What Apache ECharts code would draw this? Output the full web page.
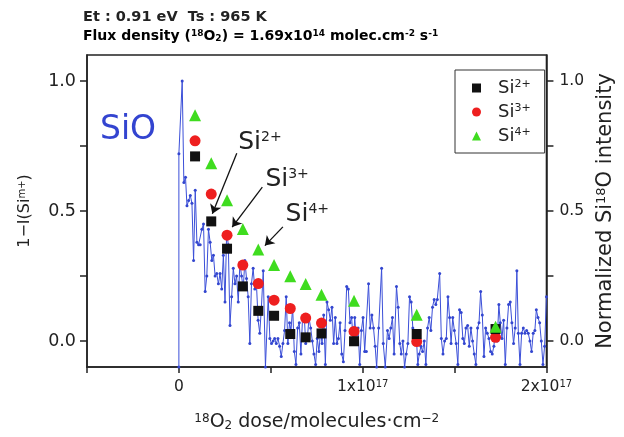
<!DOCTYPE html>
<html>
<head>
<meta charset="utf-8">
<script src="https://cdn.jsdelivr.net/npm/echarts@6/dist/echarts.min.js"></script>
<style>
  html, body { margin: 0; padding: 0; background: #fff; }
  #chart { width: 624px; height: 437px; }
</style>
</head>
<body>
<div id="chart"></div>
<script>
// Dose values are in units of 1e17 molecules/cm^2.

// SiO (Si18O) signal, normalized, as [dose, intensity]
const sioTrace = [
  [0.000, -0.10], [0.000, 0.72], [0.018, 1.00], [0.027, 0.61], [0.036, 0.63], [0.044, 0.52],
  [0.053, 0.54], [0.062, 0.56], [0.071, 0.53], [0.080, 0.31], [0.089, 0.58], [0.098, 0.38],
  [0.107, 0.37], [0.116, 0.37], [0.125, 0.43], [0.134, 0.45], [0.143, 0.19], [0.152, 0.25],
  [0.161, 0.43], [0.170, 0.38], [0.179, 0.31], [0.188, 0.33], [0.197, 0.25], [0.206, 0.26],
  [0.215, 0.22], [0.224, 0.26], [0.233, 0.20], [0.242, 0.33], [0.251, 0.15], [0.260, 0.42],
  [0.269, 0.37], [0.278, 0.06], [0.287, 0.17], [0.296, 0.28], [0.305, 0.22], [0.314, 0.25],
  [0.323, 0.15], [0.332, 0.30], [0.341, 0.25], [0.350, 0.20], [0.359, 0.31], [0.368, 0.24],
  [0.377, 0.17], [0.386, -0.01], [0.395, 0.22], [0.404, 0.28], [0.413, 0.20], [0.422, 0.22],
  [0.431, 0.08], [0.440, 0.03], [0.449, 0.13],
  [0.459, 0.27], [0.471, -0.10], [0.486, 0.17], [0.495, 0.01], [0.504, -0.01], [0.513, 0.00],
  [0.521, 0.01], [0.530, -0.01], [0.539, 0.01], [0.548, -0.02], [0.557, -0.06], [0.566, -0.01],
  [0.575, 0.04], [0.584, 0.17], [0.593, -0.01], [0.602, 0.07], [0.610, 0.04], [0.619, 0.13],
  [0.628, -0.04], [0.637, -0.09], [0.646, 0.05], [0.655, 0.07], [0.664, -0.05], [0.673, 0.09],
  [0.682, 0.10], [0.690, -0.01], [0.699, 0.01], [0.708, 0.09], [0.717, 0.05], [0.726, 0.00],
  [0.735, -0.05], [0.744, -0.09], [0.753, 0.01], [0.762, -0.04], [0.771, 0.04], [0.779, -0.01],
  [0.788, 0.10], [0.797, -0.09], [0.806, 0.15], [0.815, 0.12], [0.824, 0.08], [0.833, 0.13],
  [0.842, -0.01], [0.851, 0.09], [0.860, -0.01], [0.868, 0.01], [0.877, 0.07], [0.886, -0.05],
  [0.895, -0.08], [0.904, 0.04], [0.913, 0.21], [0.922, 0.20], [0.931, 0.07], [0.940, 0.09],
  [0.949, -0.01], [0.957, 0.09], [0.966, -0.01], [0.975, 0.05], [0.984, -0.09], [0.993, 0.04],
  [1.002, 0.09], [1.011, -0.04], [1.020, -0.04], [1.032, 0.22], [1.041, 0.05], [1.050, 0.10],
  [1.059, 0.05], [1.068, -0.02], [1.076, -0.10], [1.087, 0.05], [1.103, 0.28], [1.112, -0.01],
  [1.123, -0.10], [1.135, 0.04], [1.144, 0.01], [1.153, 0.05], [1.162, 0.09], [1.171, -0.05],
  [1.184, 0.21], [1.193, 0.13], [1.202, -0.01], [1.210, -0.05], [1.219, 0.00], [1.228, -0.10],
  [1.237, -0.05], [1.246, -0.01], [1.255, 0.17], [1.264, 0.15], [1.273, 0.05], [1.282, 0.01],
  [1.291, 0.03], [1.300, -0.09], [1.308, -0.05], [1.317, -0.02], [1.326, -0.04], [1.335, 0.00],
  [1.344, -0.09], [1.353, 0.05], [1.362, 0.09], [1.371, 0.04], [1.380, 0.13], [1.389, 0.16],
  [1.398, 0.14], [1.406, 0.16], [1.419, 0.26], [1.428, 0.01], [1.437, -0.05], [1.446, 0.00],
  [1.455, 0.01], [1.464, 0.17], [1.473, 0.09], [1.481, -0.01], [1.490, 0.09], [1.499, 0.04],
  [1.509, -0.01], [1.518, -0.09], [1.527, 0.12], [1.536, 0.11], [1.545, 0.01], [1.553, -0.01],
  [1.562, 0.05], [1.571, 0.06], [1.580, -0.02], [1.589, 0.05], [1.598, 0.00], [1.607, -0.05],
  [1.616, -0.09], [1.625, 0.05], [1.633, 0.07], [1.642, 0.19], [1.651, 0.10], [1.660, -0.06],
  [1.669, 0.05], [1.678, 0.03], [1.687, 0.01], [1.696, -0.04], [1.705, -0.05], [1.714, -0.02],
  [1.723, 0.05], [1.732, 0.00], [1.741, 0.14], [1.749, 0.07], [1.758, 0.01], [1.767, 0.08],
  [1.776, -0.09], [1.785, 0.05], [1.794, 0.14], [1.803, 0.15], [1.812, 0.07], [1.821, -0.01],
  [1.830, 0.05], [1.839, 0.27], [1.847, 0.03], [1.856, -0.09], [1.865, 0.03], [1.874, 0.05],
  [1.883, 0.03], [1.892, 0.04], [1.901, 0.03], [1.910, 0.00], [1.919, -0.04], [1.928, 0.03],
  [1.937, 0.04], [1.945, 0.12], [1.954, 0.09], [1.963, 0.07], [1.972, 0.00], [1.981, -0.09],
  [1.990, -0.02], [2.000, 0.17]
];

// 1 - I(Si^m+) for the three suboxide states
const markerDose = [0.088, 0.176, 0.262, 0.348, 0.432, 0.518, 0.606, 0.690, 0.776, 0.953, 1.294, 1.723];
const si2 = [0.71, 0.46, 0.355, 0.21, 0.116, 0.097, 0.027, 0.014, 0.029, -0.001, 0.027, 0.046];
const si3 = [0.77, 0.565, 0.407, 0.292, 0.221, 0.157, 0.125, 0.088, 0.069, 0.037, -0.002, 0.014];
const si4 = [0.868, 0.684, 0.541, 0.431, 0.352, 0.292, 0.249, 0.219, 0.178, 0.155, 0.101, 0.055];

const yTicks = [0, 0.25, 0.5, 0.75, 1];
const yLabels = [0, 0.5, 1];
const xLabels = [0, 1, 2];

const FONT = '"DejaVu Sans", "Liberation Sans", sans-serif';
const INK = '#222';

const pairs = (xs, ys) => xs.map((x, i) => [x, ys[i]]);

const supRich = (size, supSize, weight) => ({
  b: { fontSize: size, fontFamily: FONT, color: INK, fontWeight: weight || 'normal' },
  sup: { fontSize: supSize, fontFamily: FONT, color: INK, fontWeight: weight || 'normal',
         verticalAlign: 'top', lineHeight: Math.round(supSize * 0.8) },
  sub: { fontSize: supSize, fontFamily: FONT, color: INK, fontWeight: weight || 'normal',
         verticalAlign: 'bottom', lineHeight: Math.round(supSize * 0.8) }
});

const chart = echarts.init(document.getElementById('chart'), null, { renderer: 'canvas' });

// pointer arrow from a state label to its marker
const arrowLine = (from, to) => ({
  silent: true,
  symbol: ['none', 'arrow'],
  symbolSize: 9,
  lineStyle: { color: '#111', width: 1.3, type: 'solid', opacity: 1 },
  itemStyle: { color: '#111' },
  label: { show: false },
  emphasis: { disabled: true },
  data: [[{ coord: from }, { coord: to }]]
});

// state name placed next to its arrow
const stateLabel = (at, charge) => ({
  silent: true,
  symbol: 'circle',
  symbolSize: 1,
  itemStyle: { color: 'rgba(0,0,0,0)' },
  label: {
    show: true,
    position: 'right',
    distance: 0,
    formatter: '{b|Si}{sup|' + charge + '}',
    rich: supRich(25, 14)
  },
  data: [{ coord: at, value: charge }]
});

chart.setOption({
  animation: false,
  backgroundColor: '#fff',
  grid: {
    left: 87, right: 70, top: 55, bottom: 68,
    show: true, borderColor: INK, borderWidth: 1.5, backgroundColor: 'transparent'
  },
  legend: {
    orient: 'vertical',
    left: 455, top: 70,
    padding: [9, 14, 8, 17],
    itemGap: 6,
    itemWidth: 9, itemHeight: 9,
    borderColor: '#333', borderWidth: 1,
    data: ['Si2+', 'Si3+', 'Si4+'],
    formatter: name => '{b|Si}{sup|' + name.slice(2) + '}',
    textStyle: { padding: [0, 0, 0, 12], rich: supRich(18, 11) }
  },
  xAxis: {
    type: 'value', min: -0.5, max: 2, interval: 0.5,
    axisLine: { onZero: false, lineStyle: { color: INK, width: 1.5 } },
    axisTick: { length: 6, lineStyle: { color: INK, width: 1.5 } },
    splitLine: { show: false },
    axisLabel: {
      margin: 12,
      customValues: xLabels,
      formatter: v => v === 0 ? '{b|0}' : '{b|' + v + 'x10}{sup|17}',
      rich: supRich(15.5, 10)
    },
    name: '{sup|18}{b|O}{sub|2}{b| dose/molecules·cm}{sup|−2}',
    nameLocation: 'middle',
    nameGap: 46,
    nameTextStyle: { rich: supRich(19, 12) }
  },
  yAxis: [
    {
      type: 'value', min: -0.1, max: 1.1, position: 'left',
      axisLine: { onZero: false, lineStyle: { color: INK, width: 1.5 } },
      axisTick: { length: 7, customValues: yTicks, lineStyle: { color: INK, width: 1.5 } },
      splitLine: { show: false },
      axisLabel: { margin: 11, customValues: yLabels, formatter: v => v.toFixed(1),
                   fontSize: 17.5, fontFamily: FONT, color: INK },
      name: '{b|1−I(Si}{sup|m+}{b|)}',
      nameLocation: 'middle', nameRotate: 90, nameGap: 54,
      nameTextStyle: { rich: supRich(16, 10) }
    },
    {
      type: 'value', min: -0.1, max: 1.1, position: 'right',
      axisLine: { onZero: false, lineStyle: { color: INK, width: 1.5 } },
      axisTick: { length: 7, customValues: yTicks, lineStyle: { color: INK, width: 1.5 } },
      splitLine: { show: false },
      axisLabel: { margin: 13, customValues: yLabels, formatter: v => v.toFixed(1),
                   fontSize: 15.5, fontFamily: FONT, color: INK },
      name: '{b|Normalized Si}{sup|18}{b|O intensity}',
      nameLocation: 'middle', nameRotate: 90, nameGap: 43,
      nameTextStyle: { rich: supRich(21, 13) }
    }
  ],
  graphic: [
    {
      type: 'text', left: 83, top: 10,
      style: { text: 'Et : 0.91 eV  Ts : 965 K', font: 'bold 14.5px ' + FONT, fill: INK }
    },
    {
      type: 'text', left: 83, top: 29,
      style: {
        text: '{b|Flux density (}{sup|18}{b|O}{sub|2}{b|) = 1.69x10}{sup|14}{b| molec.cm}{sup|-2}{b| s}{sup|-1}',
        rich: supRich(14, 9, 'bold')
      }
    },
    {
      type: 'text', left: 100, top: 114,
      style: { text: 'SiO', font: '33px ' + FONT, fill: '#3344d0' }
    }
  ],
  series: [
    {
      name: 'SiO',
      type: 'line',
      yAxisIndex: 1,
      data: sioTrace,
      symbol: 'circle',
      symbolSize: 3,
      showSymbol: true,
      clip: true,
      lineStyle: { color: '#3b4fd8', width: 1 },
      itemStyle: { color: '#3346cf' },
      z: 2,
      silent: true
    },
    {
      name: 'Si2+',
      type: 'scatter',
      data: pairs(markerDose, si2),
      symbol: 'rect',
      symbolSize: 10,
      itemStyle: { color: '#111', opacity: 1 },
      z: 4,
      markLine: arrowLine([0.315, 0.722], [0.182, 0.489]),
      markPoint: stateLabel([0.320, 0.764], '2+')
    },
    {
      name: 'Si3+',
      type: 'scatter',
      data: pairs(markerDose, si3),
      symbol: 'circle',
      symbolSize: 11,
      itemStyle: { color: '#ee1f1f', opacity: 1 },
      z: 3,
      markLine: arrowLine([0.454, 0.592], [0.290, 0.438]),
      markPoint: stateLabel([0.468, 0.620], '3+')
    },
    {
      name: 'Si4+',
      type: 'scatter',
      data: pairs(markerDose, si4),
      symbol: 'triangle',
      symbolSize: 12,
      itemStyle: { color: '#3fdc1f', opacity: 1 },
      z: 5,
      markLine: arrowLine([0.566, 0.439], [0.468, 0.367]),
      markPoint: stateLabel([0.578, 0.486], '4+')
    }
  ]
});
</script>
</body>
</html>
